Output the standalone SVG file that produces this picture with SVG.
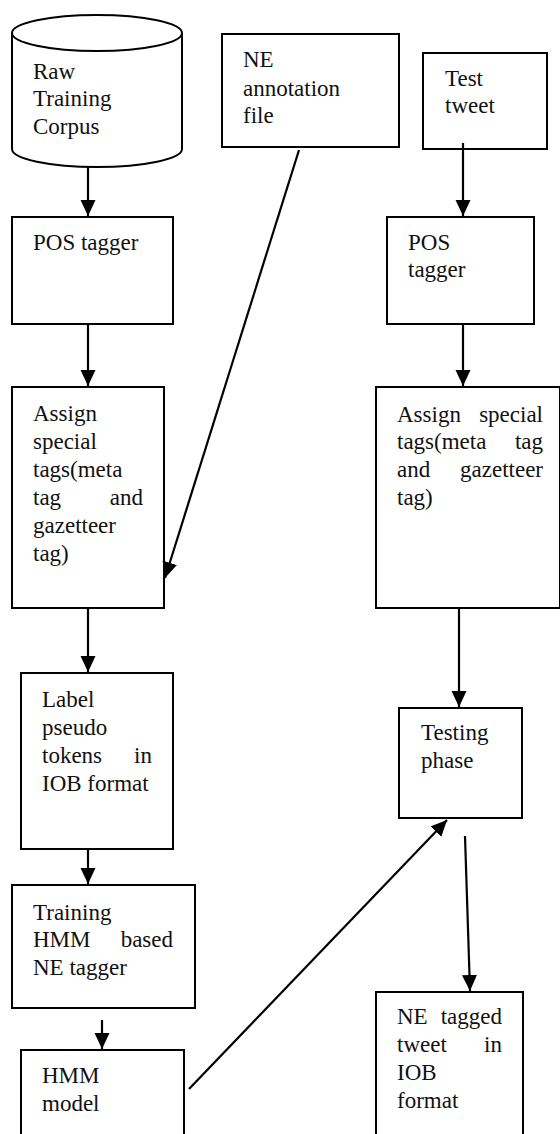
<svg xmlns="http://www.w3.org/2000/svg" width="560" height="1134" viewBox="0 0 560 1134" font-family="Liberation Serif, Times New Roman, Times, DejaVu Serif, serif">
<style>
.box{fill:#fff;stroke:#000;stroke-width:2}
.t{font-size:23px;fill:#111}
.e{text-anchor:end}
.c{stroke:#000;stroke-width:2.2;fill:none}
</style>
<defs>
<marker id="ah" markerUnits="userSpaceOnUse" markerWidth="17" markerHeight="16" refX="16" refY="7.5" orient="auto">
<path d="M0,0 L16,7.5 L0,15 z" fill="#000"/>
</marker>
</defs>
<rect width="560" height="1134" fill="#fff"/>
<g id="raw-corpus">
<path class="box" d="M12,33 L12,149 A85,18 0 0 0 182,149 L182,33"/>
<ellipse class="box" cx="97" cy="33" rx="85" ry="18"/>
<text class="t" x="33" y="79">Raw</text>
<text class="t" x="33" y="106">Training</text>
<text class="t" x="33" y="134">Corpus</text>
</g>
<g id="ne-annotation">
<rect class="box" x="222" y="34" width="177" height="113"/>
<text class="t" x="243" y="67">NE</text>
<text class="t" x="243" y="96">annotation</text>
<text class="t" x="243" y="123">file</text>
</g>
<g id="test-tweet">
<rect class="box" x="423" y="53" width="124" height="96"/>
<text class="t" x="445" y="86">Test</text>
<text class="t" x="445" y="113">tweet</text>
</g>
<g id="pos-left">
<rect class="box" x="12" y="217" width="161" height="107"/>
<text class="t" x="33" y="250">POS tagger</text>
</g>
<g id="pos-right">
<rect class="box" x="387" y="217" width="147" height="107"/>
<text class="t" x="408" y="250">POS</text>
<text class="t" x="408" y="277">tagger</text>
</g>
<g id="assign-left">
<rect class="box" x="12" y="387" width="152" height="221"/>
<text class="t" x="33" y="421">Assign</text>
<text class="t" x="33" y="449">special</text>
<text class="t" x="33" y="477">tags(meta</text>
<text class="t" x="33" y="505">tag</text>
<text class="t e" x="143" y="505">and</text>
<text class="t" x="33" y="533">gazetteer</text>
<text class="t" x="33" y="561">tag)</text>
</g>
<g id="assign-right">
<rect class="box" x="376" y="387" width="184" height="221"/>
<text class="t" x="397" y="422">Assign</text>
<text class="t e" x="543" y="422">special</text>
<text class="t" x="397" y="449">tags(meta</text>
<text class="t e" x="543" y="449">tag</text>
<text class="t" x="397" y="477">and</text>
<text class="t e" x="543" y="477">gazetteer</text>
<text class="t" x="397" y="505">tag)</text>
</g>
<g id="label-iob">
<rect class="box" x="21" y="673" width="152" height="176"/>
<text class="t" x="42" y="707">Label</text>
<text class="t" x="42" y="735">pseudo</text>
<text class="t" x="42" y="763">tokens</text>
<text class="t e" x="152" y="763">in</text>
<text class="t" x="42" y="791">IOB format</text>
</g>
<g id="testing-phase">
<rect class="box" x="399" y="708" width="123" height="110"/>
<text class="t" x="421" y="740">Testing</text>
<text class="t" x="421" y="768">phase</text>
</g>
<g id="training-hmm">
<rect class="box" x="12" y="885" width="183" height="123"/>
<text class="t" x="33" y="920">Training</text>
<text class="t" x="33" y="947">HMM</text>
<text class="t e" x="173" y="947">based</text>
<text class="t" x="33" y="975">NE tagger</text>
</g>
<g id="hmm-model">
<rect class="box" x="21" y="1050" width="163" height="100"/>
<text class="t" x="42" y="1083">HMM</text>
<text class="t" x="42" y="1111">model</text>
</g>
<g id="ne-tagged">
<rect class="box" x="376" y="992" width="147" height="160"/>
<text class="t" x="397" y="1024">NE</text>
<text class="t e" x="502" y="1024">tagged</text>
<text class="t" x="397" y="1052">tweet</text>
<text class="t e" x="502" y="1052">in</text>
<text class="t" x="397" y="1080">IOB</text>
<text class="t" x="397" y="1108">format</text>
</g>
<g id="connectors">
<line class="c" x1="88" y1="166" x2="88" y2="216" marker-end="url(#ah)"/>
<line class="c" x1="88" y1="324" x2="88" y2="386" marker-end="url(#ah)"/>
<line class="c" x1="299" y1="150" x2="165" y2="578" marker-end="url(#ah)"/>
<line class="c" x1="463" y1="143" x2="463" y2="216" marker-end="url(#ah)"/>
<line class="c" x1="463" y1="324" x2="463" y2="386" marker-end="url(#ah)"/>
<line class="c" x1="88" y1="608" x2="88" y2="672" marker-end="url(#ah)"/>
<line class="c" x1="459" y1="608" x2="459" y2="707" marker-end="url(#ah)"/>
<line class="c" x1="88" y1="849" x2="88" y2="884" marker-end="url(#ah)"/>
<line class="c" x1="102" y1="1020" x2="102" y2="1049" marker-end="url(#ah)"/>
<line class="c" x1="189" y1="1089" x2="447" y2="820" marker-end="url(#ah)"/>
<line class="c" x1="465" y1="836" x2="470" y2="991" marker-end="url(#ah)"/>
</g>
</svg>
